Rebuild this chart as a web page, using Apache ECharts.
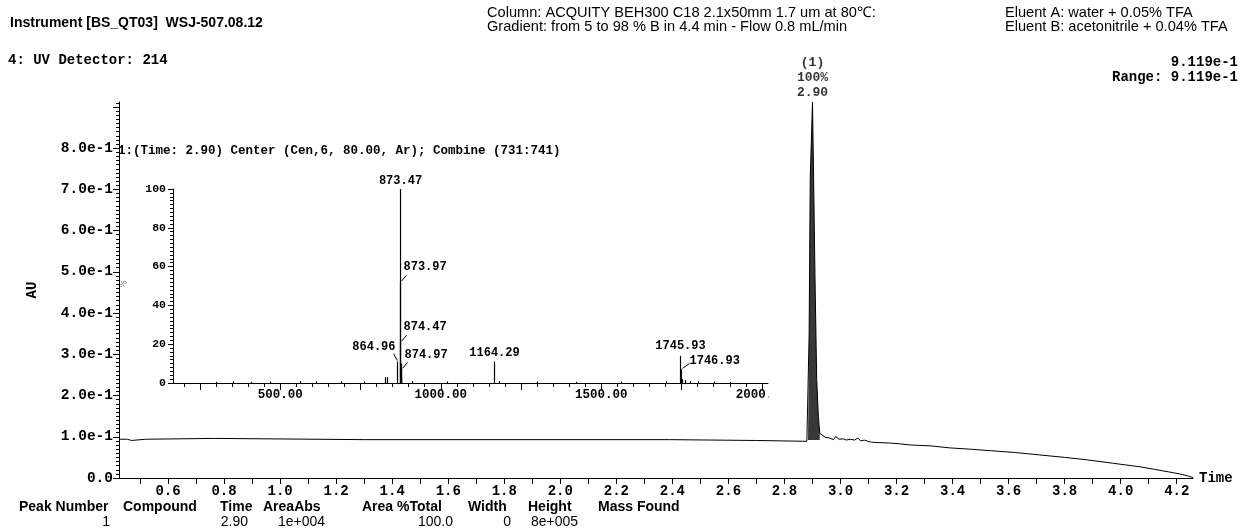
<!DOCTYPE html>
<html>
<head>
<meta charset="utf-8">
<title>UV 214 chromatogram</title>
<script src="https://cdn.jsdelivr.net/npm/echarts@6/dist/echarts.min.js"></script>
<style>
  html, body { margin: 0; padding: 0; background: #fff; }
  #chart { width: 1246px; height: 530px; }
</style>
</head>
<body>
<div id="chart"></div>
<script>
// ---- UV 214 nm trace: retention time (min) and absorbance (AU) ----
const chromTime = [
  0.425, 0.455, 0.458, 0.470, 0.473, 0.520, 0.523, 0.765, 0.770, 1.300,
  2.390, 2.395, 2.700, 2.705, 2.880, 2.884, 2.888, 2.892, 2.900, 2.904,
  2.909, 2.915, 2.921, 2.926, 2.935, 2.945, 2.960, 2.975, 2.983, 2.995,
  3.010, 3.020, 3.035, 3.050, 3.062, 3.072, 3.085, 3.097, 3.110, 3.130,
  3.170, 3.210, 3.250, 3.320, 3.390, 3.460, 3.540, 3.620, 3.710, 3.800,
  3.880, 3.970, 4.070, 4.120, 4.170, 4.210, 4.240, 4.258
];
const chromAU = [
  0.094, 0.094, 0.091, 0.091, 0.094, 0.094, 0.096, 0.096, 0.093, 0.093,
  0.093, 0.091, 0.091, 0.089, 0.089, 0.092, 0.350, 0.727, 0.9119, 0.727,
  0.483, 0.239, 0.150, 0.108, 0.104, 0.099, 0.097, 0.093, 0.101, 0.094,
  0.095, 0.092, 0.094, 0.092, 0.097, 0.090, 0.092, 0.089, 0.087, 0.086,
  0.085, 0.083, 0.080, 0.078, 0.073, 0.070, 0.066, 0.062, 0.056, 0.050,
  0.044, 0.036, 0.027, 0.021, 0.015, 0.010, 0.005, 0.001
];

// peak table entry for the main peak
const peakNumber = 1;
const peakTime = 2.90;
const peakAU = 0.9119;
const peakAreaPct = '100%';
const peakStart = 2.884;
const peakEnd = 2.926;
const peakBaseAU = 0.092;
const auRange = 0.9119;

// ---- combined mass spectrum at t = 2.90 min: m/z and relative intensity (%) ----
const msMz = [
  300, 352, 410, 468, 560, 612, 690, 760, 825, 832,
  864.96, 873.47, 873.97, 874.47, 874.97, 875.47, 875.97, 876.47, 910, 1020,
  1164.29, 1180, 1300, 1420, 1560, 1700, 1745.93, 1746.93, 1752, 1760,
  1775, 1800, 1850, 1900
];
const msIntensity = [
  0.6, 0.8, 0.6, 0.7, 1.0, 0.8, 0.9, 0.7, 3, 3,
  11, 100, 52, 21, 7, 10, 4, 2, 1, 0.8,
  11, 1, 0.7, 0.6, 0.7, 0.8, 14, 7, 2, 1.5,
  1, 0.8, 0.7, 0.5
];
const labeledMz = [864.96, 873.47, 873.97, 874.47, 874.97, 1164.29, 1745.93, 1746.93];

// ---- axis tick labels ----
const timeLabels = [0.6, 0.8, 1.0, 1.2, 1.4, 1.6, 1.8, 2.0, 2.2, 2.4, 2.6, 2.8, 3.0, 3.2, 3.4, 3.6, 3.8, 4.0, 4.2];
const auLabels = [0, 0.1, 0.2, 0.3, 0.4, 0.5, 0.6, 0.7, 0.8];
const mzLabels = [500, 1000, 1500, 2000];
const pctLabels = [0, 20, 40, 60, 80, 100];

// ---- header and footer text ----
const instrumentText = 'Instrument [BS_QT03]  WSJ-507.08.12';
const columnText = 'Column: ACQUITY BEH300 C18 2.1x50mm 1.7 um at 80\u2103:';
const gradientText = 'Gradient: from 5 to 98 % B in 4.4 min - Flow 0.8 mL/min';
const eluentAText = 'Eluent A: water + 0.05% TFA';
const eluentBText = 'Eluent B: acetonitrile + 0.04% TFA';
const detectorText = '4: UV Detector: 214';
const spectrumTitle = '1:(Time: 2.90) Center (Cen,6, 80.00, Ar); Combine (731:741)';
const tableHeaders = ['Peak Number', 'Compound', 'Time', 'AreaAbs', 'Area %Total', 'Width', 'Height', 'Mass Found'];
const tableRow = ['1', '', '2.90', '1e+004', '100.0', '0', '8e+005', ''];

// ---- layout / style ----
const MONO = '"Liberation Mono", "Courier New", monospace';
const SANS = '"Liberation Sans", Arial, sans-serif';
const INK = '#000';
const headerX = [19, 123, 220, 263, 362, 468, 528, 598];
const valueRightX = [110, 0, 248, 325, 453, 511, 578, 0];

function rangeSteps(from, to, step) {
  const out = [];
  const n = Math.round((to - from) / step);
  for (let i = 0; i <= n; i++) out.push(+(from + i * step).toFixed(4));
  return out;
}
const timeTicks = rangeSteps(0.5, 4.2, 0.1);
const auMinorTicks = rangeSteps(0, 0.91, 0.01);
const pctMinorTicks = rangeSteps(0, 100, 2);
const mzMinorTicks = rangeSteps(200, 2000, 50);
const mzMajorTicks = rangeSteps(250, 2000, 250);

// label placement for annotated spectrum peaks (pixel offsets from stick top)
const peakLabelPlacement = {
  '873.47':  { dx: 0,  dy: -8,  align: 'center' },
  '873.97':  { dx: 3,  dy: -15, align: 'left',  lead: [1, -1, 6, -7] },
  '874.47':  { dx: 3,  dy: -15, align: 'left',  lead: [1, -1, 6, -7] },
  '874.97':  { dx: 3,  dy: -14, align: 'left',  lead: [1, -1, 6, -7] },
  '864.96':  { dx: -2, dy: -15, align: 'right', lead: [0, -1, -4, -8] },
  '1164.29': { dx: 0,  dy: -9,  align: 'center' },
  '1745.93': { dx: 0,  dy: -10, align: 'center' },
  '1746.93': { dx: 8,  dy: -8,  align: 'left',  lead: [1, -1, 8, -6] }
};

const chromData = chromTime.map((t, i) => [t, chromAU[i]]);
const peakData = chromData.filter(p => p[0] >= peakStart && p[0] <= peakEnd);
const msData = msMz.map((m, i) => [m, msIntensity[i]]);
const msLabelData = labeledMz.map(m => [m, msIntensity[msMz.indexOf(m)]]);

function txt(text, x, y, font, align, extra) {
  return Object.assign({
    type: 'text', x: x, y: y, silent: true,
    style: { text: text, font: font, fill: INK, align: align || 'left', verticalAlign: 'middle',
             textAlign: align || 'left', textVerticalAlign: 'middle' }
  }, extra || {});
}

const graphics = [
  txt(instrumentText, 10, 23, 'bold 14px ' + SANS),
  txt(columnText, 487, 13, '14.6px ' + SANS),
  txt(gradientText, 487, 27, '14.6px ' + SANS),
  txt(eluentAText, 1005, 13, '14.6px ' + SANS),
  txt(eluentBText, 1005, 27, '14.6px ' + SANS),
  txt(detectorText, 8, 60, 'bold 14px ' + MONO),
  txt(auRange.toExponential(3), 1238, 62, 'bold 14px ' + MONO, 'right'),
  txt('Range: ' + auRange.toExponential(3), 1238, 77, 'bold 14px ' + MONO, 'right'),
  txt('AU', 32, 290, 'bold 14px ' + MONO, 'center', { rotation: Math.PI / 2 }),
  txt(spectrumTitle, 118, 151, 'bold 12.5px ' + MONO),
  txt('%', 123, 284, '9px ' + SANS, 'center', { rotation: Math.PI / 3, style: { text: '%', font: '9px ' + SANS, fill: '#777', align: 'center', verticalAlign: 'middle' } }),
  // spectrum frame clips its last axis label at the right edge
  { type: 'rect', shape: { x: 769, y: 386, width: 30, height: 16 }, style: { fill: '#fff' }, z: 100, silent: true }
];
tableHeaders.forEach((h, i) => graphics.push(txt(h, headerX[i], 507, 'bold 14px ' + SANS)));
tableRow.forEach((v, i) => { if (v) graphics.push(txt(v, valueRightX[i], 522, '14px ' + SANS, 'right')); });

const axisLineStyle = { show: true, lineStyle: { color: INK, width: 1 } };

const option = {
  animation: false,
  backgroundColor: '#fff',
  grid: [
    { left: 119, right: 53, top: 102, bottom: 52 },
    { left: 173, right: 478, top: 189, bottom: 147 }
  ],
  xAxis: [
    {
      gridIndex: 0, type: 'value', min: 0.425, max: 4.258,
      axisLine: axisLineStyle,
      axisTick: { show: true, length: 6, lineStyle: { color: INK }, customValues: timeTicks },
      axisLabel: { customValues: timeLabels, formatter: v => v.toFixed(1), margin: 6,
                   fontFamily: MONO, fontWeight: 'bold', fontSize: 14, color: INK },
      splitLine: { show: false },
      name: 'Time', nameLocation: 'end', nameGap: 6,
      nameTextStyle: { fontFamily: MONO, fontWeight: 'bold', fontSize: 14, color: INK, verticalAlign: 'middle' }
    },
    {
      gridIndex: 1, type: 'value', min: 166, max: 2019, position: 'bottom',
      axisLine: axisLineStyle,
      axisTick: { show: true, length: 4, lineStyle: { color: INK }, customValues: mzMinorTicks },
      axisLabel: { show: false },
      splitLine: { show: false }
    },
    {
      gridIndex: 1, type: 'value', min: 166, max: 2019, position: 'bottom',
      axisLine: { show: false },
      axisTick: { show: true, length: 7, lineStyle: { color: INK }, customValues: mzMajorTicks },
      axisLabel: { customValues: mzLabels, formatter: v => v.toFixed(2), margin: 5,
                   fontFamily: MONO, fontWeight: 'bold', fontSize: 12.5, color: INK },
      splitLine: { show: false }
    }
  ],
  yAxis: [
    {
      gridIndex: 0, type: 'value', min: 0, max: auRange, position: 'left',
      axisLine: axisLineStyle,
      axisTick: { show: true, length: 6, lineStyle: { color: INK }, customValues: auLabels.concat([0.9]) },
      axisLabel: { customValues: auLabels, margin: 6,
                   formatter: v => (v === 0 ? '0.0' : v.toExponential(1)),
                   fontFamily: MONO, fontWeight: 'bold', fontSize: 14.5, color: INK },
      splitLine: { show: false }
    },
    {
      gridIndex: 0, type: 'value', min: 0, max: auRange, position: 'left',
      axisLine: { show: false },
      axisTick: { show: true, length: 3, lineStyle: { color: INK }, customValues: auMinorTicks },
      axisLabel: { show: false },
      splitLine: { show: false }
    },
    {
      gridIndex: 1, type: 'value', min: 0, max: 100, position: 'left',
      axisLine: axisLineStyle,
      axisTick: { show: true, length: 5, lineStyle: { color: INK }, customValues: pctLabels },
      axisLabel: { customValues: pctLabels, margin: 7,
                   fontFamily: MONO, fontWeight: 'bold', fontSize: 11.5, color: INK },
      splitLine: { show: false }
    },
    {
      gridIndex: 1, type: 'value', min: 0, max: 100, position: 'left',
      axisLine: { show: false },
      axisTick: { show: true, length: 3, lineStyle: { color: INK }, customValues: pctMinorTicks },
      axisLabel: { show: false },
      splitLine: { show: false }
    }
  ],
  graphic: graphics,
  series: [
    {
      name: 'peak area', type: 'line', xAxisIndex: 0, yAxisIndex: 0,
      data: peakData, symbol: 'none', z: 2,
      lineStyle: { width: 0 },
      areaStyle: { color: '#383838', opacity: 1, origin: peakBaseAU }
    },
    {
      name: 'UV 214', type: 'line', xAxisIndex: 0, yAxisIndex: 0,
      data: chromData, symbol: 'none', z: 3,
      lineStyle: { color: INK, width: 1 }
    },
    {
      name: 'apex', type: 'scatter', xAxisIndex: 0, yAxisIndex: 0,
      data: [[peakTime, peakAU]], symbolSize: 1, itemStyle: { color: 'rgba(0,0,0,0)' }, z: 4,
      label: {
        show: true, position: 'top', distance: 1,
        formatter: () => '(' + peakNumber + ')\n' + peakAreaPct + '\n' + peakTime.toFixed(2),
        fontFamily: MONO, fontWeight: 'bold', fontSize: 13, lineHeight: 15, color: INK, align: 'center'
      }
    },
    {
      name: 'spectrum', type: 'custom', xAxisIndex: 1, yAxisIndex: 2,
      data: msData, z: 3,
      renderItem: (params, api) => {
        const base = api.coord([api.value(0), 0]);
        const top = api.coord([api.value(0), api.value(1)]);
        const x = Math.round(base[0]) + 0.5;
        return { type: 'line', shape: { x1: x, y1: base[1], x2: x, y2: top[1] },
                 style: { stroke: INK, lineWidth: 1.2 } };
      }
    },
    {
      name: 'spectrum labels', type: 'custom', xAxisIndex: 1, yAxisIndex: 2,
      data: msLabelData, z: 4,
      renderItem: (params, api) => {
        const mz = api.value(0);
        const key = mz.toFixed(2);
        const p = api.coord([mz, api.value(1)]);
        const px = Math.round(p[0]) + 0.5;
        const pl = peakLabelPlacement[key] || { dx: 0, dy: -8, align: 'center' };
        const children = [{
          type: 'text', x: px + pl.dx, y: p[1] + pl.dy,
          style: { text: key, font: 'bold 12px ' + MONO, fill: INK,
                   align: pl.align, verticalAlign: 'middle' }
        }];
        if (pl.lead) {
          children.push({ type: 'line',
            shape: { x1: px + pl.lead[0], y1: p[1] + pl.lead[1], x2: px + pl.lead[2], y2: p[1] + pl.lead[3] },
            style: { stroke: INK, lineWidth: 1 } });
        }
        return { type: 'group', children: children };
      }
    }
  ]
};

const chart = echarts.init(document.getElementById('chart'));
chart.setOption(option);
</script>
</body>
</html>
